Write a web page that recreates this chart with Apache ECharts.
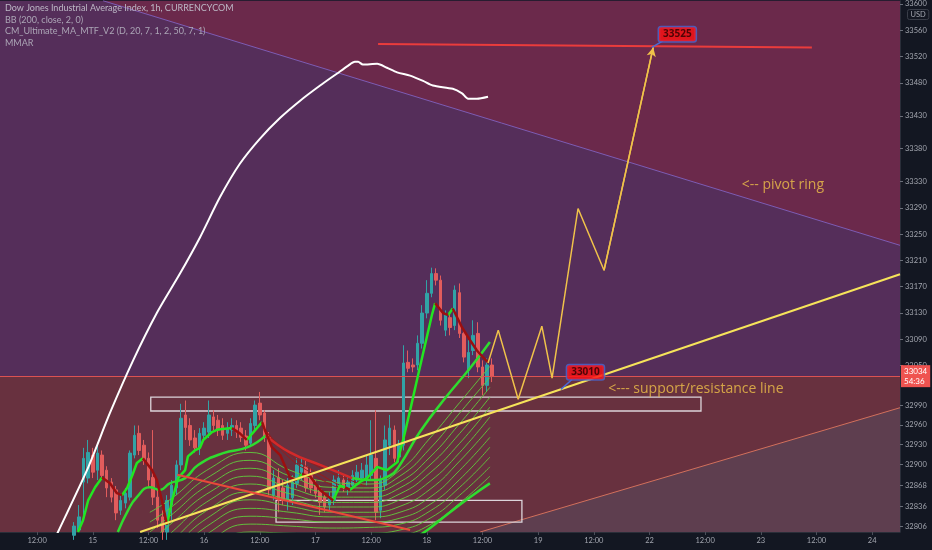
<!DOCTYPE html>
<html><head><meta charset="utf-8">
<script src="https://cdn.jsdelivr.net/npm/echarts@6/dist/echarts.min.js"></script>
<style>html,body{margin:0;padding:0;background:#131722}#c{width:932px;height:550px}</style>
</head><body><div id="c"></div>
<script>
// ---------- axes ----------
const xTickHours  = [-12, 0, 12, 24, 36, 48, 60, 72, 84, 96, 108, 120, 132, 144, 156, 168];
const xTickLabels = ['12:00','15','12:00','16','12:00','17','12:00','18','12:00','19','12:00','22','12:00','23','12:00','24'];
const yTickValues = [33600,33560,33520,33480,33430,33380,33330,33290,33250,33210,33170,33130,33090,33050,32990,32960,32930,32900,32868,32836,32806];
const lastPrice = 33034;
const lastPriceTimer = '54:36';

// ---------- candles: [hour, open, close, low, high] ----------
const candles = [
[-4,32792,32806,32785,32812],[-3,32800,32820,32797,32838],[-2,32873,32909,32823,32925],[-1,32879,32918,32871,32937],
[0,32914,32888,32879,32925],[1,32891,32917,32876,32932],[2,32914,32883,32876,32921],[3,32891,32864,32850,32897],
[4,32873,32850,32842,32879],[5,32861,32826,32815,32867],[6,32830,32845,32823,32856],[7,32841,32856,32833,32864],
[8,32850,32917,32845,32921],[9,32914,32944,32909,32959],[10,32947,32921,32914,32959],[11,32929,32906,32899,32937],
[12,32909,32876,32865,32918],[13,32880,32850,32838,32952],[14,32850,32815,32803,32861],[15,32820,32797,32785,32830],
[16,32797,32845,32785,32853],[17,32838,32868,32815,32876],[18,32864,32899,32853,32906],[19,32899,32970,32891,32992],
[20,32975,32956,32937,32997],[21,32959,32937,32928,32970],[22,32940,32925,32918,32952],[23,32926,32947,32914,32955],
[24,32944,32955,32937,32964],[25,32949,32975,32940,32997],[26,32972,32959,32952,32982],[27,32967,32952,32943,32975],
[28,32959,32944,32937,32970],[29,32947,32955,32937,32964],[30,32952,32959,32943,32970],[31,32959,32949,32940,32967],
[32,32955,32941,32934,32964],[33,32943,32929,32921,32952],[34,32932,32962,32926,32970],[35,32959,32990,32952,32997],
[36,32993,32975,32967,33010],[37,32978,32941,32934,32982],[38,32941,32861,32853,32949],[39,32853,32879,32845,32891],
[40,32880,32845,32827,32894],[41,32864,32845,32838,32876],[42,32845,32868,32830,32879],[43,32849,32873,32838,32883],
[44,32871,32899,32864,32909],[45,32888,32899,32876,32909],[46,32896,32864,32858,32906],[47,32883,32864,32856,32894],
[48,32868,32856,32849,32876],[49,32861,32842,32823,32868],[50,32850,32835,32827,32858],[51,32838,32850,32830,32858],
[52,32845,32876,32838,32883],[53,32868,32879,32861,32891],[54,32876,32864,32858,32883],[55,32864,32873,32853,32880],
[56,32868,32883,32861,32891],[57,32876,32888,32868,32899],[58,32879,32891,32873,32902],[59,32876,32899,32868,32914],
[60,32883,32914,32876,32967],[61,32909,32827,32815,32982],[62,32830,32876,32818,32883],[63,32868,32937,32861,32959],
[64,32929,32955,32914,32975],[65,32952,32909,32903,32959],[66,32911,32929,32903,32937],[67,32929,33054,32921,33081],
[68,33055,33046,33040,33073],[69,33051,33048,33040,33061],[70,33051,33084,33043,33096],[71,33084,33130,33076,33142],
[72,33130,33160,33122,33180],[73,33160,33190,33154,33199],[74,33190,33180,33172,33198],[75,33180,33119,33111,33187],
[76,33104,33127,33095,33134],[77,33123,33108,33096,33131],[78,33111,33165,33104,33172],[79,33161,33099,33092,33175],
[80,33099,33063,33055,33104],[81,33043,33070,33031,33089],[82,33073,33096,33066,33119],[83,33099,33048,33040,33116],
[84,33048,33020,33005,33058],[85,33020,33051,33010,33061],[86,33051,33034,33025,33061]
];

// ---------- white band line (BB) ----------
const bbLine = [[-8.8,32777],[-7.5,32797],[-1.25,32891],[3.7,32978],[8.7,33058],[13.8,33130],[18.8,33190],[23.1,33245],
[27.4,33306],[31.7,33357],[36.0,33395],[40.4,33427],[44.7,33453],[49.0,33476],[52.6,33494],[55.0,33506],[56.5,33512],
[57.2,33512],[58.2,33508],[61.3,33509],[63.4,33503],[65.6,33496],[68.4,33491],[71.2,33483],[73.3,33476],[77.6,33471],
[79.6,33464],[80.9,33456],[82.8,33456],[85.2,33459]];

// ---------- MA ribbon ----------
const fastMaUp = [
 [[-3.2,32797],[-2.1,32815],[-1.0,32845],[0.5,32865],[2.0,32880]],
 [[6.3,32853],[7.4,32864],[8.5,32883],[9.5,32902],[10.8,32909]],
 [[16.0,32808],[17.1,32845],[18.4,32879],[19.9,32891],[20.5,32912],[22.0,32921],[23.1,32925],[23.8,32937],[25.7,32949],[27.0,32953],[30.0,32955]],
 [[33.2,32937],[35.0,32952],[36.5,32964]],
 [[44.0,32876],[45.1,32885]],
 [[51.8,32845],[53.3,32868],[54.4,32865]],
 [[55.4,32861],[57.6,32873],[59.1,32879],[61.3,32896],[63.4,32891],[65.6,32903],[66.9,32937],[68.4,32982],[70.1,33035],[71.6,33081],[73.1,33127],[73.8,33145]],
 [[76.6,33127],[77.6,33137]]
];
const fastMaDown = [
 [[2.0,32880],[3.7,32871],[5.2,32856],[6.3,32853]],
 [[10.8,32909],[12.8,32891],[13.8,32876],[14.9,32845],[16.0,32808]],
 [[30.0,32955],[31.7,32947],[33.2,32937]],
 [[36.5,32964],[37.1,32952],[38.6,32926],[40.4,32914],[42.5,32880],[44.0,32876]],
 [[45.1,32885],[46.8,32882],[49.0,32861],[51.8,32845]],
 [[54.4,32865],[55.4,32861]],
 [[73.8,33145],[75.5,33130],[76.6,33127]],
 [[77.6,33137],[79.6,33108],[81.3,33089],[82.8,33073],[84.1,33063],[85.2,33055]]
];
const midMaUp = [
 [[5.4,32797],[7.6,32830],[9.5,32850],[12.3,32865],[14.5,32861],[16.6,32871],[19.9,32879],[22.7,32899],[28.1,32917],[33.4,32926],[37.3,32944]],
 [[55.9,32879],[59.8,32876],[64.1,32883],[66.2,32899],[70.5,32949],[75.9,33000],[81.3,33046],[85.6,33086]]
];
const midMaDown = [[[37.3,32944],[42.5,32918],[49.0,32899],[55.9,32879]]];
const slowMa = [[66.2,32777],[70.5,32792],[77.0,32827],[81.3,32850],[85.6,32871]];

const ribbonHours = [12.3,16.6,25.3,33.9,42.5,51.1,59.7,66.2,72.7,79.1,85.6];
const ribbonLines = [
 [32827,32846,32894,32918,32891,32873,32870,32891,32940,32994,33049],
 [32812,32833,32882,32906,32882,32865,32864,32882,32924,32978,33032],
 [32797,32821,32870,32894,32873,32858,32858,32873,32911,32962,33017],
 [32782,32808,32858,32882,32864,32850,32850,32864,32899,32947,33002],
 [32767,32794,32846,32870,32855,32842,32842,32855,32887,32932,32987],
 [32751,32780,32833,32858,32846,32835,32835,32846,32874,32918,32972],
 [32736,32767,32821,32846,32836,32827,32827,32836,32862,32905,32956],
 [32721,32753,32809,32833,32827,32820,32820,32827,32850,32891,32941],
 [32706,32739,32797,32821,32817,32812,32812,32818,32839,32877,32926],
 [32691,32726,32783,32809,32806,32803,32804,32809,32829,32865,32911],
 [32675,32712,32770,32797,32795,32794,32795,32800,32818,32853,32896],
 [32660,32698,32756,32783,32783,32785,32786,32791,32808,32841,32882]
];
const ribbonFalling = [
 [[36.5,32959],[39.3,32934],[42.5,32909],[46.8,32888],[51.1,32870],[54.4,32861]],
 [[36.9,32952],[40.4,32928],[44.7,32903],[49.0,32885],[53.3,32868],[56.5,32861]],
 [[37.8,32937],[42.5,32918],[46.8,32903],[51.1,32888],[55.4,32876],[58.7,32867]]
];

// ---------- drawings ----------
const pivotUpperZone = [[2.2,33605],[174,33233],[174,33605]];
const pivotLowerZone = [[83.5,32797],[174,32986],[174,32797]];
const belowPriceZone = [[-20,32797],[174,32797],[174,33034],[-20,33034]];
const pivotUpperEdge = [[2.2,33605],[174,33233]];
const pivotLowerEdge = [[83.5,32797],[174,32986]];
const supportLine = [[10.2,32797],[174,33189]];
const fallingLine = [[18.2,32884],[68.4,32800]];
const targetLine = [[61.5,33539],[155,33534]];
const whiteBoxes = [[12.5,131.1,32981,33002],[39.5,92.5,32812,32845]];
const projection = [[85.2,33054],[87.4,33104],[91.7,32999],[96.8,33110],[99.0,33031],[104.6,33289],[110.2,33195],[120.8,33534]];
const callouts = [
 {name:'33525', box:[126.0,33554], anchor:[120.5,33534], corner:[122.9,33544]},
 {name:'33010', box:[106.2,33040], anchor:[100.9,33014], corner:[103.3,33029]}
];
const notes = [
 {name:'<-- pivot ring', value:[139.9,33324]},
 {name:'<--- support/resistance line', value:[111.1,33014]}
];
const legendLines = ['Dow Jones Industrial Average Index, 1h, CURRENCYCOM','BB (200, close, 2, 0)','CM_Ultimate_MA_MTF_V2 (D, 20, 7, 1, 2, 50, 7, 1)','MMAR'];

// ---------- build ----------
const chart = echarts.init(document.getElementById('c'), null, {renderer:'canvas'});
function poly(points, color, z){
  return {type:'custom', silent:true, z:z, clip:true, data:[points[0]],
    renderItem:(p, api)=>({type:'polygon', shape:{points:points.map(q=>api.coord(q))}, style:{fill:color}})};
}
function ln(data, color, width, z, smooth, extra){
  return Object.assign({type:'line', data:data, symbol:'none', silent:true, z:z, smooth:smooth||false,
    lineStyle:{color:color, width:width}, animation:false}, extra||{});
}
const series = [];
series.push(poly(pivotUpperZone,'#6b294b',1));
series.push(poly(belowPriceZone,'#68313f',1));
series.push(poly(pivotLowerZone,'#5e3e4f',1));
series.push(ln(pivotUpperEdge,'#7d5cb4',1,2));
series.push(ln(pivotLowerEdge,'#d2705c',1,2,false,{
  markLine:{silent:true, symbol:'none', animation:false, data:[{yAxis:lastPrice}],
    lineStyle:{color:'#dc5252', width:1, type:'solid'},
    label:{position:'end', distance:1, formatter:lastPrice+'\n'+lastPriceTimer, backgroundColor:'#ef5350',
      color:'#ffffff', fontSize:8, lineHeight:10, padding:[1,3], fontFamily:'Lato'}}
}));
series.push({type:'custom', silent:true, z:3, data:whiteBoxes.map(b=>[b[0],b[2]]),
  renderItem:(p, api)=>{const b=whiteBoxes[p.dataIndex]; const a=api.coord([b[0],b[3]]), c=api.coord([b[1],b[2]]);
    return {type:'rect', shape:{x:a[0],y:a[1],width:c[0]-a[0],height:c[1]-a[1]}, style:{fill:'none', stroke:'#dcd4da', lineWidth:1.3}};}});
series.push({type:'candlestick', z:4, data:candles, encode:{x:0, y:[1,2,3,4]}, barWidth:3, silent:true, animation:false,
  itemStyle:{color:'#31a3a6', color0:'#e25c5c', borderColor:'#31a3a6', borderColor0:'#e25c5c', borderWidth:1}});
ribbonLines.forEach(vals=>series.push(ln(vals.map((v,i)=>[ribbonHours[i],v]),'rgba(98,205,62,0.9)',1,5,true)));
ribbonFalling.forEach(seg=>series.push(ln(seg,'#9a1a1a',1,5,true)));
series.push(ln(slowMa,'#2fdc2f',2.5,6,true));
midMaUp.forEach(seg=>series.push(ln(seg,'#2fdc2f',2.5,6,true)));
midMaDown.forEach(seg=>series.push(ln(seg,'#d32a2a',2.5,6,true)));
fastMaUp.forEach(seg=>series.push(ln(seg,'#22e622',2.5,7,false)));
fastMaDown.forEach(seg=>series.push(ln(seg,'#9c0f0f',2.5,7,false)));
series.push(ln(bbLine,'#ffffff',2,8,0.25));
series.push(ln(supportLine,'#f6e35a',2,8));
series.push(ln(fallingLine,'#e8483a',2,8));
series.push(ln(targetLine,'#ea3c3c',2,8));
series.push(ln(projection,'#f0c24a',1.5,9,false,{
  markLine:{silent:true, animation:false, symbol:['none','arrow'], symbolSize:[7,9],
    data:[[{coord:projection[projection.length-2]},{coord:projection[projection.length-1]}]],
    lineStyle:{color:'#f0c24a', width:1.5, type:'solid'}, label:{show:false}}
}));
callouts.forEach(c=>series.push(ln([c.anchor,c.corner],'#4a6ad6',1.5,9)));
series.push({type:'scatter', z:10, silent:true, symbolSize:0, animation:false,
  data:callouts.map(c=>({name:c.name, value:c.box})),
  label:{show:true, position:'inside', formatter:'{b}', color:'#2a0000', fontSize:10, fontWeight:'bold',
    fontFamily:'Open Sans', backgroundColor:'#ff1010', borderColor:'#4866d0', borderWidth:1.5, borderRadius:2, padding:[2,4]}});
series.push({type:'scatter', z:10, silent:true, symbolSize:0, animation:false, data:notes,
  label:{show:true, position:'right', distance:0, formatter:'{b}', color:'#f0c24a', fontSize:14, fontFamily:'Open Sans'}});

chart.setOption({
  animation:false,
  backgroundColor:'#131722',
  grid:{left:0, right:32, top:0, bottom:18, show:true, backgroundColor:'#552e5a', borderWidth:0},
  xAxis:{type:'value', min:-20, max:174,
    axisLine:{show:true, onZero:false, lineStyle:{color:'#2a2e39'}}, splitLine:{show:false},
    axisTick:{show:true, length:3, customValues:xTickHours, lineStyle:{color:'#4a4e59'}},
    axisLabel:{customValues:xTickHours, color:'#a3a6af', fontSize:7.5, fontFamily:'Lato', margin:5,
      formatter:v=>xTickLabels[xTickHours.indexOf(v)]}},
  yAxis:{type:'value', position:'right', min:32797, max:33605,
    axisLine:{show:true, onZero:false, lineStyle:{color:'#2a2e39'}}, splitLine:{show:false},
    axisTick:{show:true, length:3, customValues:yTickValues, lineStyle:{color:'#6a6e79'}},
    axisLabel:{customValues:yTickValues, color:'#a3a6af', fontSize:7.5, fontFamily:'Lato', margin:5, formatter:v=>String(v)}},
  graphic:[
    ...legendLines.map((t,i)=>({type:'text', left:5, top:4+i*11.5, silent:true, z:100,
      style:{text:t, fill:i===0?'#bdb8c6':'#aca6b6', font:'9px Lato'}})),
    {type:'text', left:907, top:9, silent:true, z:100,
      style:{text:'USD', fill:'#a3a6af', font:'7.5px Lato', borderColor:'#3a3e49', borderWidth:1, borderRadius:2, padding:[1,3]}}
  ],
  series:series
});
</script></body></html>
